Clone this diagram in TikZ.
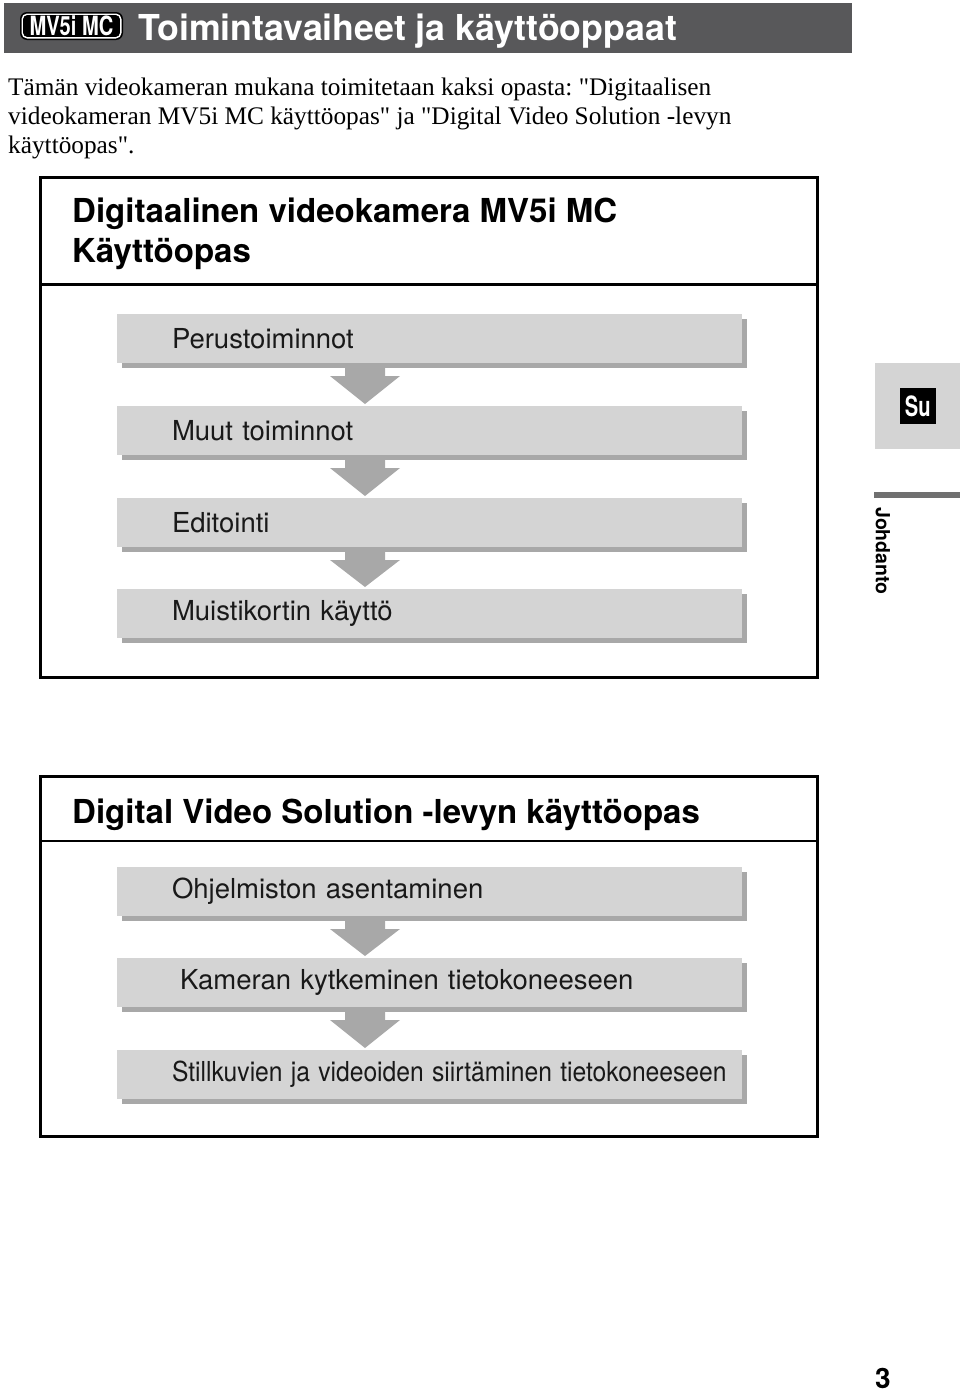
\documentclass[tikz,border=0pt]{standalone}
\usepackage{fontspec}
\setmainfont{Liberation Serif}
\setsansfont{TeX Gyre Heros}
\usepackage{xcolor}
\usetikzlibrary{positioning, shadows}
\frenchspacing

\definecolor{headgray}{HTML}{58585A}
\definecolor{boxgray}{HTML}{D4D4D4}
\definecolor{shadegray}{HTML}{A8A8A8}
\definecolor{bargray}{HTML}{707070}

\tikzset{
  guidebox/.style={draw=black, line width=3pt, anchor=north west, inner sep=0pt, outer sep=0pt},
  guidetitle/.style={anchor=base west, inner sep=0pt, align=left,
    font=\sffamily\bfseries\fontsize{33}{40}\selectfont},
  stepbox/.style={fill=boxgray, anchor=north west, minimum width=625pt,
    minimum height=49pt, text width=625pt, inner xsep=0pt, inner ysep=0pt, outer sep=0pt,
    align=left, font=\sffamily\fontsize{27.5}{30}\selectfont, text=black!90,
    drop shadow={shadow xshift=5pt, shadow yshift=-5pt, fill=shadegray, opacity=1}},
}

\begin{document}
\begin{tikzpicture}[x=1pt, y=-1pt]
  \useasboundingbox (0,0) rectangle (960,1392);

  % page header
  \node (header) [fill=headgray, anchor=north west, minimum width=848pt,
        minimum height=50pt, inner sep=0pt, outer sep=0pt] at (4,3) {};
  \node (badge) [fill=black, rounded corners=7pt, anchor=north west,
        minimum width=103pt, minimum height=28pt, inner sep=0pt, outer sep=0pt] at (20,12) {};
  \draw[white, line width=1.4pt, rounded corners=5pt]
        ([xshift=2.2pt, yshift=-2.2pt]badge.north west) rectangle ([xshift=-2.2pt, yshift=2.2pt]badge.south east);
  \node (badgetext) [text=white, inner sep=0pt, xscale=0.76,
        font=\sffamily\bfseries\fontsize{26.5}{27}\selectfont] at (badge.center) {MV5i MC};
  \node (pagetitle) [text=white, anchor=base west, inner sep=0pt,
        font=\sffamily\bfseries\fontsize{35.7}{40}\selectfont] at (138,40) {Toimintavaiheet ja käyttöoppaat};

  % intro text
  \node (intro) [anchor=base west, inner sep=0pt, align=left,
        font=\fontsize{25.3}{29}\selectfont] at (8,153)
        {Tämän videokameran mukana toimitetaan kaksi opasta: \textquotedbl Digitaalisen\\
         videokameran MV5i MC käyttöopas\textquotedbl{} ja \textquotedbl Digital Video Solution -levyn\\
         käyttöopas\textquotedbl.};

  % camera guide
  \node (guide1) [guidebox, minimum width=777pt, minimum height=500pt] at (40.5,177.5) {};
  \draw[line width=2.5pt] ([yshift=-107pt]guide1.north west) -- ([yshift=-107pt]guide1.north east);
  \node (title1) [guidetitle] at (72,262) {Digitaalinen videokamera MV5i MC\\Käyttöopas};

  \node (p1) [stepbox] at (117,314) {\hspace*{55pt}Perustoiminnot};
  \node (p2) [stepbox] at (117,406) {\hspace*{55pt}Muut toiminnot};
  \node (p3) [stepbox] at (117,498) {\hspace*{55pt}Editointi};
  \node (p4) [stepbox] at (117,589) {\hspace*{55pt}Muistikortin käyttö};

  % software guide
  \node (guide2) [guidebox, minimum width=777pt, minimum height=360pt] at (40.5,776) {};
  \draw[line width=2.5pt] ([yshift=-65pt]guide2.north west) -- ([yshift=-65pt]guide2.north east);
  \node (title2) [guidetitle] at (72,823) {Digital Video Solution -levyn käyttöopas};

  \node (q1) [stepbox] at (117,867) {\hspace*{55pt}Ohjelmiston asentaminen};
  \node (q2) [stepbox] at (117,958) {\hspace*{63pt}Kameran kytkeminen tietokoneeseen};
  \node (q3) [stepbox] at (117,1050) {\hspace*{55pt}\scalebox{0.897}[1]{Stillkuvien ja videoiden siirtäminen tietokoneeseen}};

  % flow arrows
  \foreach \a/\b in {p1/p2, p2/p3, p3/p4, q1/q2, q2/q3}
    \fill[shadegray] ([xshift=228pt]\a.south west) -- ([xshift=268pt]\a.south west)
      -- ([xshift=268pt, yshift=-13pt]\a.south west) -- ([xshift=283pt, yshift=-13pt]\a.south west)
      -- ([xshift=248pt, yshift=2pt]\b.north west)
      -- ([xshift=213pt, yshift=-13pt]\a.south west) -- ([xshift=228pt, yshift=-13pt]\a.south west) -- cycle;

  % side tab
  \node (tab) [fill=boxgray, anchor=north west, minimum width=85pt, minimum height=86pt, inner sep=0pt] at (875,363) {};
  \node (lang) [fill=black, minimum size=36pt, inner sep=0pt] at (tab.center) {};
  \node (langtext) [text=white, inner sep=0pt, xscale=0.72,
        font=\sffamily\bfseries\fontsize{28}{28}\selectfont] at (lang.center) {Su};
  \node (bar) [fill=bargray, anchor=north west, minimum width=86pt, minimum height=6pt, inner sep=0pt] at (874,492) {};
  \node (chapter) [rotate=-90, anchor=south west, inner sep=0pt,
        font=\sffamily\bfseries\fontsize{19.5}{20}\selectfont] at (875.5,507) {Johdanto};

  % page number
  \node (pageno) [anchor=base, inner sep=0pt,
        font=\sffamily\bfseries\fontsize{28}{28}\selectfont] at (883,1388) {3};
\end{tikzpicture}
\end{document}
